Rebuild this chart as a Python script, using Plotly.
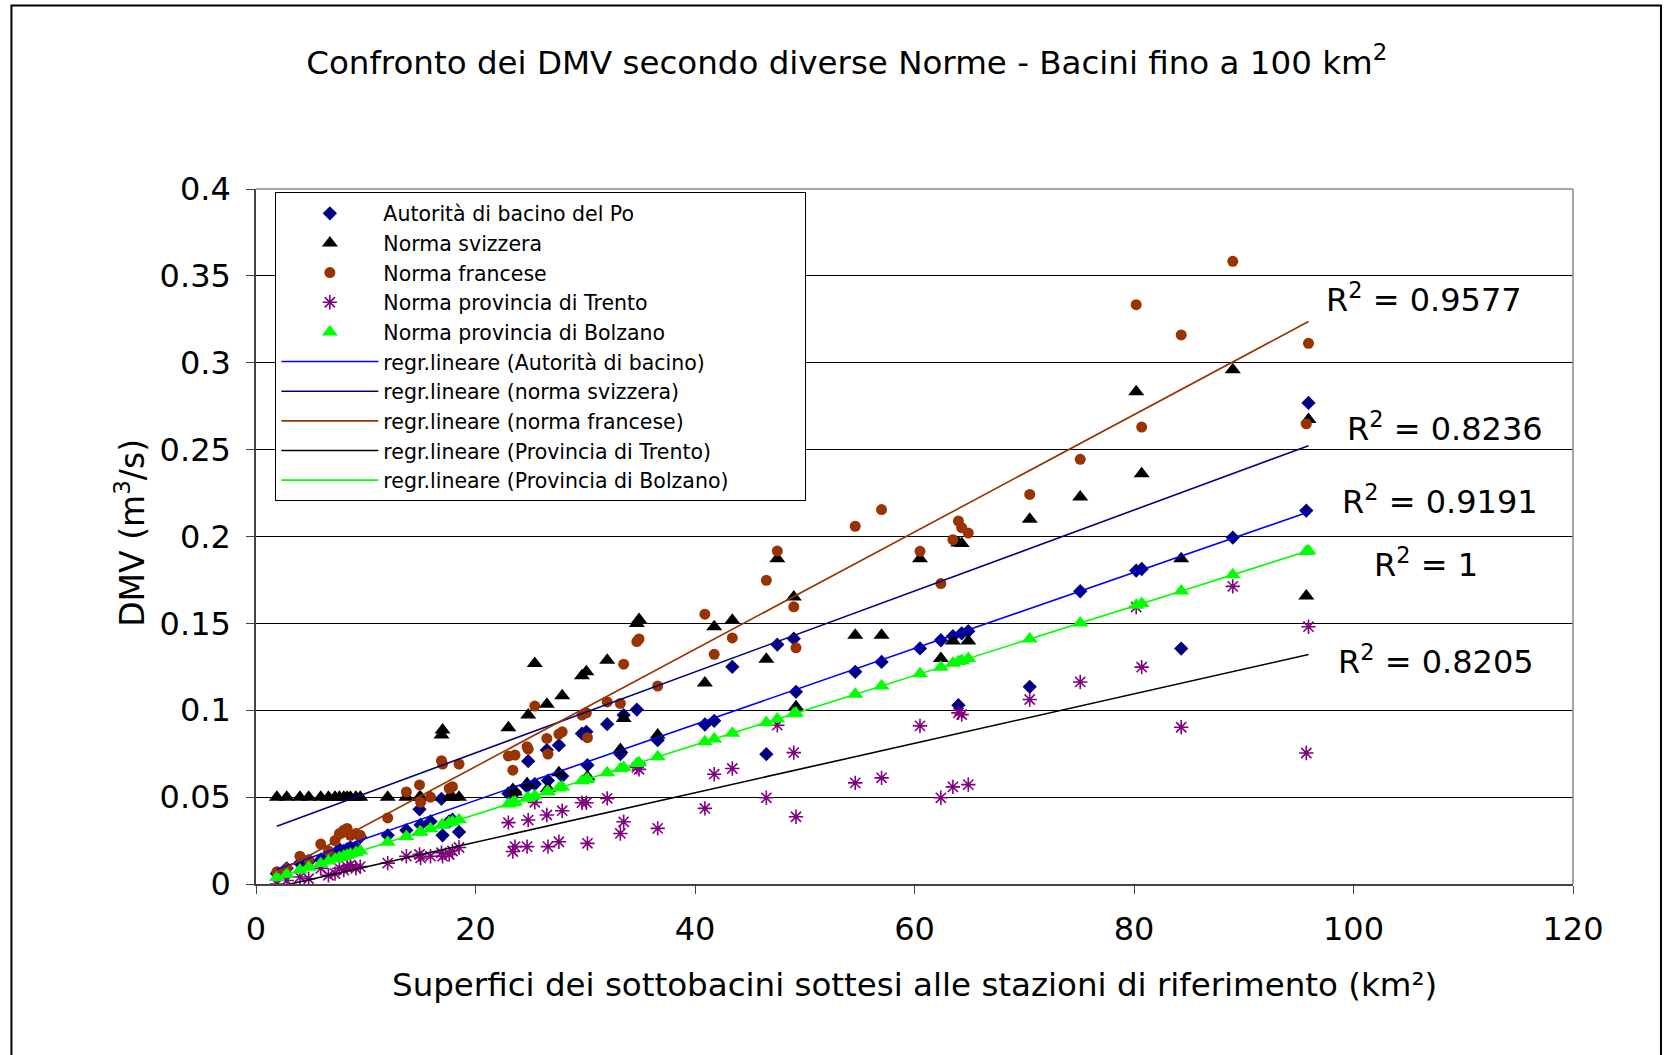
import numpy as np
import plotly.graph_objects as go

# ---------------- data ----------------
area_km2 = [1.9, 2.8, 4.0, 4.8, 5.9, 6.6, 7.2, 7.6, 8.0, 8.3, 8.6, 9.1, 9.5, 12.0, 13.7, 14.9, 15.0, 15.9, 16.9, 17.0, 17.6, 17.9, 18.5,
            23.0, 23.4, 23.6, 24.7, 24.8, 25.4, 26.5, 26.6, 27.6, 27.9, 29.7, 30.1, 30.2, 32.0, 33.2, 33.5, 34.7, 34.9, 36.6,
            40.9, 41.75, 43.4, 46.5, 47.5, 49.0, 49.2, 54.6, 57.0, 60.5, 62.4, 63.5, 64.0, 64.3, 64.9, 70.5, 75.1, 80.2, 80.7, 84.3, 89.0, 95.7, 95.9]

dmv_po = [0.006, 0.009, 0.012, 0.013, 0.014, 0.016, 0.017, 0.020, 0.019, 0.020, 0.021, 0.021, 0.027, 0.028, 0.031, 0.043, 0.034, 0.036, 0.049, 0.028, 0.036, 0.037, 0.030,
          0.0521, 0.0530, 0.0528, 0.0560, 0.0707, 0.0575, 0.0771, 0.0595, 0.0799, 0.0621, 0.0866, 0.0876, 0.0684, 0.0920, 0.0748, 0.0972, 0.1004, 0.0690, 0.0828,
          0.0918, 0.0939, 0.1250, 0.0747, 0.1378, 0.1412, 0.1106, 0.1221, 0.1278, 0.1356, 0.1403, 0.1426, 0.1029, 0.1443, 0.1455, 0.1135, 0.1685, 0.1804, 0.1813, 0.1355, 0.1994, 0.2149, 0.2769]

dmv_svizzera = [0.05, 0.05, 0.05, 0.05, 0.05, 0.05, 0.05, 0.05, 0.05, 0.05, 0.05, 0.05, 0.05, 0.05, 0.05, 0.05, 0.05, 0.05, 0.0857, 0.0886, 0.05, 0.05, 0.05,
                0.0899, 0.0544, 0.0530, 0.0578, 0.0972, 0.1269, 0.1035, 0.0550, 0.0640, 0.1083, 0.1198, 0.1221, 0.0617, 0.1288, 0.0774, 0.0952, 0.1500, 0.1522, 0.0857,
                0.1157, 0.1480, 0.1518, 0.1294, 0.1872, 0.1652, 0.1020, 0.1432, 0.1432, 0.1872, 0.1298, 0.1399, 0.1963, 0.1960, 0.1399, 0.2099, 0.2227, 0.2833, 0.2361, 0.1872, 0.2959, 0.1658, 0.2673]

dmv_francese = [0.007, 0.009, 0.016, 0.014, 0.023, 0.019, 0.025, 0.029, 0.031, 0.032, 0.028, 0.029, 0.028, 0.038, 0.053, 0.057, 0.047, 0.050, 0.071, 0.069, 0.055, 0.056, 0.069,
                0.0736, 0.0655, 0.0742, 0.0790, 0.0776, 0.1024, 0.0838, 0.0748, 0.0863, 0.0876, 0.0972, 0.0985, 0.0842, 0.1048, 0.1039, 0.1265, 0.1395, 0.1410, 0.1139,
                0.1553, 0.1322, 0.1416, 0.1748, 0.1916, 0.1595, 0.1359, 0.2059, 0.2155, 0.1915, 0.1729, 0.1982, 0.2089, 0.2051, 0.2020, 0.2242, 0.2444, 0.3334, 0.2630, 0.3160, 0.3584, 0.2649, 0.3112]

dmv_trento = [0.000, 0.002, 0.004, 0.003, 0.009, 0.005, 0.006, 0.009, 0.008, 0.010, 0.011, 0.009, 0.010, 0.012, 0.016, 0.017, 0.015, 0.016, 0.018, 0.016, 0.017, 0.019, 0.021,
              0.0353, 0.0187, 0.0215, 0.0215, 0.0368, 0.0470, 0.0397, 0.0215, 0.0243, 0.0422, 0.0468, 0.0468, 0.0234, 0.0493, 0.0291, 0.0358, 0.0671, 0.0660, 0.0320,
              0.0435, 0.0632, 0.0665, 0.0496, 0.0914, 0.0756, 0.0387, 0.0582, 0.0611, 0.0910, 0.0496, 0.0559, 0.0985, 0.0975, 0.0572, 0.1062, 0.1163, 0.1594, 0.1248, 0.0902, 0.1713, 0.0754, 0.1481]

dmv_bolzano = [0.0038, 0.0056, 0.0080, 0.0096, 0.0118, 0.0132, 0.0144, 0.0152, 0.0160, 0.0166, 0.0172, 0.0182, 0.0190, 0.0240, 0.0274, 0.0298, 0.0300, 0.0318, 0.0338, 0.0340, 0.0352, 0.0358, 0.0370,
               0.0460, 0.0468, 0.0472, 0.0494, 0.0496, 0.0508, 0.0530, 0.0532, 0.0552, 0.0558, 0.0594, 0.0602, 0.0604, 0.0640, 0.0664, 0.0670, 0.0694, 0.0698, 0.0732,
               0.0818, 0.0835, 0.0868, 0.0930, 0.0950, 0.0980, 0.0984, 0.1092, 0.1140, 0.1210, 0.1248, 0.1270, 0.1280, 0.1286, 0.1298, 0.1410, 0.1502, 0.1604, 0.1614, 0.1686, 0.1780, 0.1914, 0.1918]

series_names = ["Autorità di bacino del Po", "Norma svizzera", "Norma francese",
                "Norma provincia di Trento", "Norma provincia di Bolzano"]
trend_names = ["regr.lineare (Autorità di bacino)", "regr.lineare (norma svizzera)",
               "regr.lineare (norma francese)", "regr.lineare (Provincia di Trento)",
               "regr.lineare (Provincia di Bolzano)"]
r2_labels = ["0.9191", "0.8236", "0.9577", "0.8205", "1"]

y_ticks = [0, 0.05, 0.1, 0.15, 0.2, 0.25, 0.3, 0.35, 0.4]
x_ticks = [0, 20, 40, 60, 80, 100, 120]

# ---------------- styling ----------------
FONT = "DejaVu Sans"
series = [dmv_po, dmv_svizzera, dmv_francese, dmv_trento, dmv_bolzano]
markers = [
    dict(symbol="diamond", size=11, color="#000080"),
    dict(symbol="triangle-up", size=14, color="#000000"),
    dict(symbol="circle", size=11, color="#993300"),
    dict(symbol="asterisk-open", size=12, color="#800080", line=dict(color="#800080", width=1.6)),
    dict(symbol="triangle-up", size=14, color="#00FF00"),
]
line_colors = ["#0000FF", "#000080", "#993300", "#000000", "#00FF00"]
# R² label positions (data units) for each trendline
r2_pos = [(107.9, 0.221), (108.3, 0.263), (106.4, 0.337), (107.5, 0.129), (106.6, 0.185)]
PAD = "\u00a0" * 11  # widens the legend box like the reference

fig = go.Figure()
x = np.array(area_km2)
for name, ys, mk in zip(series_names, series, markers):
    fig.add_trace(go.Scatter(x=area_km2, y=ys, mode="markers", name=name, marker=mk))

xs_line = np.array([x.min(), x.max()])
for i, (name, ys, col) in enumerate(zip(trend_names, series, line_colors)):
    a, b = np.polyfit(x, np.array(ys), 1)
    label = name + (PAD if i == len(trend_names) - 1 else "")
    fig.add_trace(go.Scatter(x=xs_line, y=a * xs_line + b, mode="lines", name=label,
                             line=dict(color=col, width=1.6)))

annotations = []
for (ax_, ay_), lab in zip(r2_pos, r2_labels):
    annotations.append(dict(x=ax_, y=ay_, xref="x", yref="y", showarrow=False,
                            xanchor="center", yanchor="middle",
                            text="R<sup>2</sup> = " + lab,
                            font=dict(family=FONT, size=32, color="black")))
annotations.append(dict(x=0.5, y=-0.1452, xref="paper", yref="paper", showarrow=False,
                        xanchor="center", yanchor="middle",
                        text="Superfici dei sottobacini sottesi alle stazioni di riferimento (km²)",
                        font=dict(family=FONT, size=32.5, color="black")))
annotations.append(dict(x=-0.0953, y=0.506, xref="paper", yref="paper", showarrow=False,
                        xanchor="center", yanchor="middle",
                        textangle=-90, text="DMV (m<sup>3</sup>/s)",
                        font=dict(family=FONT, size=33, color="black")))

fig.update_layout(
    width=1670, height=1055,
    margin=dict(l=256, r=97, t=189, b=171),
    paper_bgcolor="white", plot_bgcolor="white",
    font=dict(family=FONT, color="black"),
    title=dict(text="Confronto dei DMV secondo diverse Norme - Bacini fino a 100 km<sup>2</sup>",
               x=0.507, xanchor="center", y=0.941, yanchor="middle", yref="container",
               font=dict(family=FONT, size=32.5, color="black")),
    showlegend=True,
    legend=dict(x=0.0147, y=0.995, xanchor="left", yanchor="top",
                bgcolor="white", bordercolor="black", borderwidth=1, itemwidth=97,
                font=dict(family=FONT, size=20.5, color="black"), tracegroupgap=0),
    annotations=annotations,
    shapes=[dict(type="rect", xref="paper", yref="paper", x0=-0.1857, x1=1.0668, y0=-0.3, y1=1.264,
                 line=dict(color="black", width=2), fillcolor="rgba(0,0,0,0)", layer="below")],
)
fig.update_xaxes(range=[0, 120], tickvals=x_ticks, ticks="outside", ticklen=8, tickcolor="#444",
                 ticklabelstandoff=8,
                 showline=True, linecolor="#444", linewidth=1.5, mirror=False,
                 showgrid=False, zeroline=False,
                 tickfont=dict(family=FONT, size=32, color="black"))
fig.update_yaxes(range=[0, 0.4], tickvals=y_ticks, ticks="outside", ticklen=8, tickcolor="#444",
                 ticklabelstandoff=9,
                 showline=True, linecolor="#444", linewidth=1.5,
                 showgrid=True, gridcolor="#000000", gridwidth=1, zeroline=False,
                 tickfont=dict(family=FONT, size=32, color="black"))
# right and top border of plot area
fig.add_shape(type="line", xref="paper", yref="paper", x0=1, x1=1, y0=0, y1=1,
              line=dict(color="#888", width=1.5))
fig.add_shape(type="line", xref="paper", yref="paper", x0=0, x1=1, y0=1, y1=1,
              line=dict(color="#888", width=1.5))

fig.write_html("out.html", config={"displayModeBar": False},
               post_script="document.body.style.margin='0px';")
